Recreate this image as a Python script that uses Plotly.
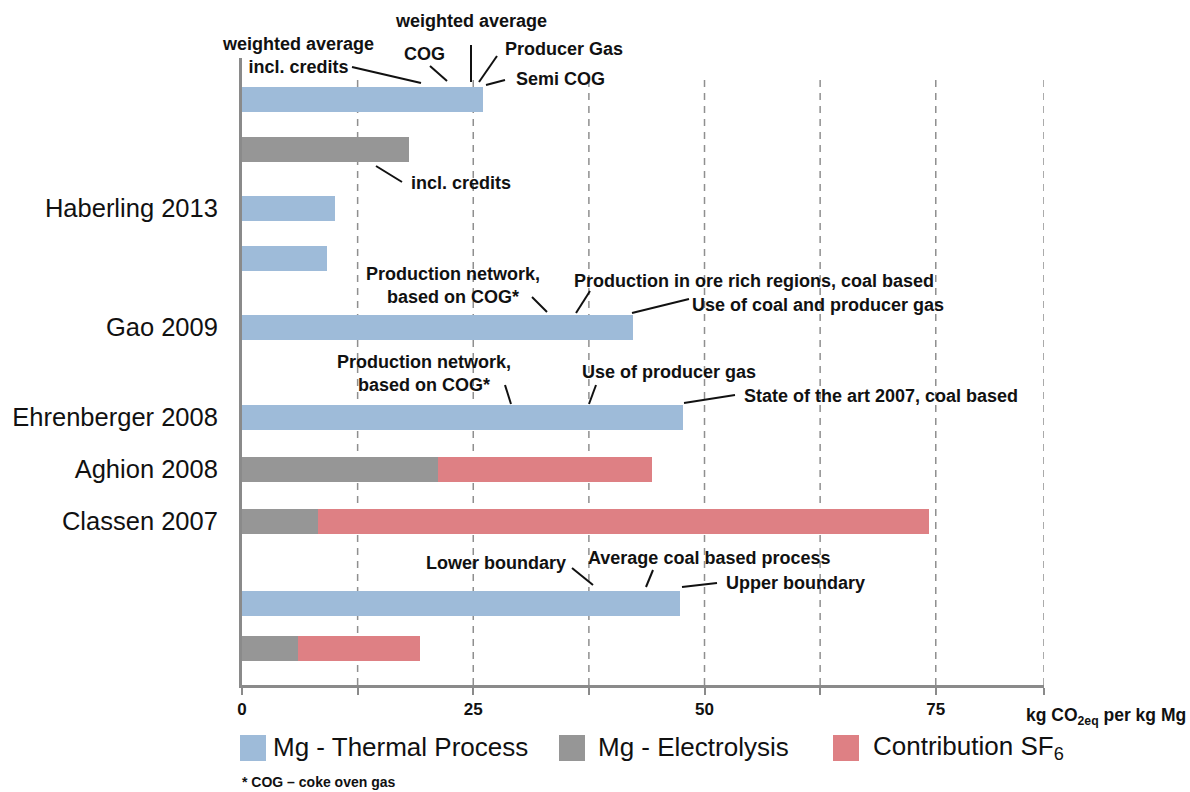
import plotly.graph_objects as go

# ---------------- data ----------------
row_labels = ["", "", "Haberling 2013", "", "Gao 2009", "Ehrenberger 2008",
              "Aghion 2008", "Classen 2007", "", ""]
thermal = [26.1, None, 10.1, 9.2, 42.3, 47.7, None, None, 47.4, None]
electrolysis = [None, 18.1, None, None, None, None, 21.2, 8.2, None, 6.1]
sf6 = [None, None, None, None, None, None, 23.1, 66.1, None, 13.1]
series_names = ["Mg - Thermal Process", "Mg - Electrolysis", "Contribution SF<sub>6</sub>"]
x_major_ticks = [0, 25, 50, 75]
x_minor_ticks = [12.5, 37.5, 62.5, 86.7]
X_MAX = 86.7

# ---------------- layout constants ----------------
W, H = 1190, 792
L, R, T, B = 242, 146, 58, 107
PW, PH = W - L - R, H - T - B
row_y = [41.5, 91.5, 150.5, 200.5, 269.5, 359, 411.5, 463.5, 545, 590.5]  # vertical slots (plot px)
BAR_W = 25
C_BLUE, C_GRAY, C_RED = "#9EBBD9", "#969696", "#DE8084"
AXIS_C = "#8a8a8a"
FONT = "Liberation Sans, Arial, sans-serif"

label_pos = [y for y, lab in zip(row_y, row_labels) if lab]
label_txt = [lab for lab in row_labels if lab]


def pp(x, y):
    """page pixel -> paper coordinates"""
    return (x - L) / PW, (H - B - y) / PH


fig = go.Figure()
for vals, name, col in zip([thermal, electrolysis, sf6], series_names, [C_BLUE, C_GRAY, C_RED]):
    fig.add_trace(go.Bar(y=row_y, x=vals, name=name, orientation="h", width=BAR_W,
                         marker=dict(color=col, line=dict(width=0)), showlegend=False))

shapes = []
# dashed grid lines
for v in x_minor_ticks + x_major_ticks[1:]:
    shapes.append(dict(type="line", xref="x", yref="paper", x0=v, x1=v, y0=0,
                       y1=pp(0, 80)[1], line=dict(color="#8f8f8f", width=1.5, dash="7px,6px"),
                       layer="below"))

annotations = []


def label(text, x, y, anchor="center", size=18, bold=True):
    px, py = pp(x, y)
    annotations.append(dict(text=f"<b>{text}</b>" if bold else text, x=px, y=py,
                            xref="paper", yref="paper", xanchor=anchor, yanchor="middle",
                            showarrow=False, font=dict(family=FONT, size=size, color="#111")))


def leader(x0, y0, x1, y1):
    a0, b0 = pp(x0, y0)
    a1, b1 = pp(x1, y1)
    shapes.append(dict(type="line", xref="paper", yref="paper", x0=a0, y0=b0, x1=a1, y1=b1,
                       line=dict(color="#111", width=2)))


# top thermal bar annotations
label("weighted average", 471, 21)
leader(471, 45, 471, 82)
label("weighted average<br>incl. credits", 298, 56)
leader(352, 67, 421, 83)
label("COG", 424, 54)
leader(430, 66, 447, 81)
label("Producer Gas", 503, 49, "left")
leader(497, 56, 479, 82)
label("Semi COG", 514, 79, "left")
leader(505, 80, 486, 85)
# gray bar
label("incl. credits", 409, 183, "left")
leader(376, 166, 402, 182)
# Gao
label("Production network,<br>based on COG*", 453, 285)
leader(532, 297, 547, 312)
label("Production in ore rich regions, coal based", 572, 281, "left")
leader(590, 291, 576, 313)
label("Use of coal and producer gas", 690, 305, "left")
leader(689, 299, 632, 313)
# Ehrenberger
label("Production network,<br>based on COG*", 424, 373)
leader(505, 385, 511, 404)
label("Use of producer gas", 580, 372, "left")
leader(596, 385, 589, 404)
label("State of the art 2007, coal based", 742, 396, "left")
leader(735, 395, 684, 403)
# bottom thermal bar
label("Lower boundary", 568, 563, "right")
leader(572, 568, 593, 585)
label("Average coal based process", 586, 558, "left")
leader(653, 570, 646, 587)
label("Upper boundary", 724, 583, "left")
leader(682, 587, 717, 583)

# manual legend
for (x0, name, col, tx) in [(240, series_names[0], C_BLUE, 271),
                            (559, series_names[1], C_GRAY, 596),
                            (833, series_names[2], C_RED, 871)]:
    a0, b0 = pp(x0, 735)
    a1, b1 = pp(x0 + 26, 761)
    shapes.append(dict(type="rect", xref="paper", yref="paper", x0=a0, y0=b0, x1=a1, y1=b1,
                       fillcolor=col, line=dict(width=0)))
    label(name, tx, 747, "left", size=26, bold=False)

label("* COG – coke oven gas", 240, 782, "left", size=14)
label("kg CO<sub>2eq</sub> per kg Mg", 1024, 717, "left", size=17.5)

fig.update_layout(
    width=W, height=H, margin=dict(l=L, r=R, t=T, b=B, pad=0, autoexpand=False),
    paper_bgcolor="white", plot_bgcolor="white", barmode="stack", bargap=0,
    font=dict(family=FONT, color="#111"),
    shapes=shapes, annotations=annotations,
    xaxis=dict(range=[0, X_MAX], tickvals=x_major_ticks,
               ticktext=[f"<b>{v}</b>" for v in x_major_ticks], showgrid=False,
               zeroline=False, showline=True, linecolor=AXIS_C, linewidth=3,
               ticks="outside", ticklen=7, tickwidth=2, tickcolor=AXIS_C,
               minor=dict(tickvals=x_minor_ticks, ticks="outside", ticklen=7, tickwidth=2,
                          tickcolor=AXIS_C, showgrid=False),
               tickfont=dict(family=FONT, size=17, color="#111"), fixedrange=True),
    yaxis=dict(range=[PH, 0], tickvals=label_pos, ticktext=label_txt, showgrid=False,
               zeroline=False, showline=True, linecolor=AXIS_C, linewidth=3,
               ticks="outside", ticklen=16, tickcolor="rgba(0,0,0,0)",
               tickfont=dict(family=FONT, size=25.5, color="#111"), fixedrange=True),
)

fig.write_html("out.html", config={"displayModeBar": False},
               post_script="document.body.style.margin='0px';")
